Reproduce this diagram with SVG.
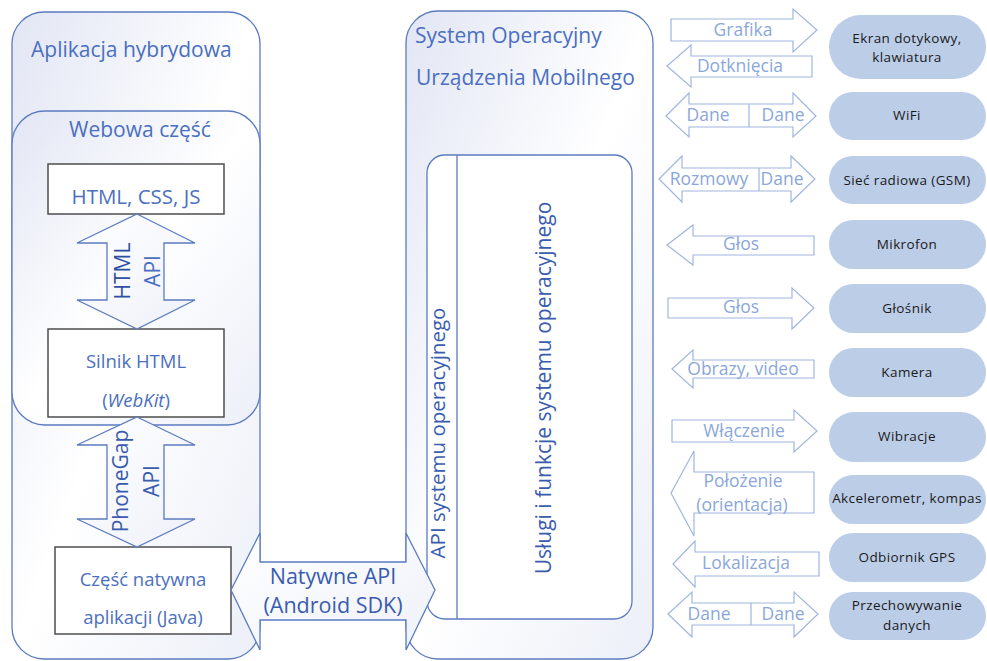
<svg xmlns="http://www.w3.org/2000/svg" width="987" height="661" viewBox="0 0 987 661">
  <defs>
    <linearGradient id="panelFill" x1="0" y1="0" x2="1" y2="1">
      <stop offset="0" stop-color="#e2e6f4"/>
      <stop offset="0.5" stop-color="#ffffff"/>
      <stop offset="1" stop-color="#eceff8"/>
    </linearGradient>
    <linearGradient id="arrowFill" x1="0" y1="0" x2="1" y2="1">
      <stop offset="0" stop-color="#ffffff"/>
      <stop offset="1" stop-color="#eef1f9"/>
    </linearGradient>
    <style>
      .panel { fill: url(#panelFill); stroke: #5b7bc0; stroke-width: 1.3; }
      .inner { fill: #ffffff; stroke: #5b7bc0; stroke-width: 1.3; }
      .box { fill: #ffffff; stroke: #4d4d4d; stroke-width: 1.5; }
      .big { fill: url(#arrowFill); stroke: #5b7bc0; stroke-width: 1.3; }
      .thin { fill: #ffffff; stroke: #9fb6e0; stroke-width: 1.2; }
      .pill { fill: #bccde8; }
      text { font-family: "Open Sans", "Liberation Sans", sans-serif; }
      .title { font-size: 21px; fill: #4a6fc1; }
      .boxt { font-size: 18.5px; fill: #4a6fc1; text-anchor: middle; }
      .api { font-size: 21px; fill: #3a5cae; text-anchor: middle; }
      .lbl { font-size: 17.5px; fill: #8aa7da; text-anchor: middle; }
      .node { font-size: 13.5px; fill: #1a1a1a; text-anchor: middle; letter-spacing: 0.4px; }
    </style>
  </defs>

  <!-- hybrid application container -->
  <g id="hybrid-app">
    <rect class="panel" x="12" y="12" width="248" height="647" rx="32"/>
    <text class="title" x="31" y="57">Aplikacja hybrydowa</text>
  </g>

  <!-- web part container -->
  <g id="web-part">
    <rect class="panel" x="12" y="111" width="248" height="314" rx="33"/>
    <text class="title" x="140" y="137" text-anchor="middle">Webowa część</text>
  </g>

  <g id="html-css-js">
    <rect class="box" x="48" y="164" width="176" height="50"/>
    <text class="boxt" x="136" y="204" style="font-size:20.5px">HTML, CSS, JS</text>
  </g>

  <g id="html-engine">
    <rect class="box" x="48" y="329" width="176" height="88"/>
    <text class="boxt" x="136" y="368">Silnik HTML</text>
    <text class="boxt" x="136" y="407">(<tspan font-style="italic">WebKit</tspan>)</text>
  </g>

  <g id="native-part">
    <rect class="box" x="55" y="547" width="176" height="87"/>
    <text class="boxt" x="143" y="586">Część natywna</text>
    <text class="boxt" x="143" y="624">aplikacji (Java)</text>
  </g>

  <!-- mobile OS container -->
  <g id="mobile-os">
    <rect class="panel" x="406" y="11" width="247" height="648" rx="32"/>
    <text class="title" x="415" y="43">System Operacyjny</text>
    <text class="title" x="416" y="85">Urządzenia Mobilnego</text>
  </g>

  <g id="os-services">
    <rect class="inner" x="427" y="155" width="205" height="464" rx="18"/>
    <line x1="457" y1="155" x2="457" y2="619" stroke="#5b7bc0" stroke-width="1.3"/>
    <text class="api" transform="translate(445,433) rotate(-90)" style="font-size:20.5px">API systemu operacyjnego</text>
    <text class="api" transform="translate(551,388) rotate(-90)">Usługi i funkcje systemu operacyjnego</text>
  </g>

  <!-- device peripherals -->
  <g id="screen">
    <rect class="pill" x="829" y="15" width="157" height="64" rx="32"/>
    <text class="node" x="907" y="43">Ekran dotykowy,</text>
    <text class="node" x="907" y="62">klawiatura</text>
  </g>
  <g id="wifi">
    <rect class="pill" x="829" y="92" width="157" height="48" rx="24"/>
    <text class="node" x="907" y="120">WiFi</text>
  </g>
  <g id="gsm">
    <rect class="pill" x="829" y="156" width="157" height="48" rx="24"/>
    <text class="node" x="907" y="185">Sieć radiowa (GSM)</text>
  </g>
  <g id="microphone">
    <rect class="pill" x="829" y="220" width="157" height="49" rx="24.5"/>
    <text class="node" x="907" y="249">Mikrofon</text>
  </g>
  <g id="speaker">
    <rect class="pill" x="829" y="284" width="157" height="49" rx="24.5"/>
    <text class="node" x="907" y="313">Głośnik</text>
  </g>
  <g id="camera">
    <rect class="pill" x="829" y="348" width="157" height="49" rx="24.5"/>
    <text class="node" x="907" y="377">Kamera</text>
  </g>
  <g id="vibration">
    <rect class="pill" x="829" y="412" width="157" height="50" rx="25"/>
    <text class="node" x="907" y="441">Wibracje</text>
  </g>
  <g id="accelerometer">
    <rect class="pill" x="829" y="475" width="157" height="49" rx="24.5"/>
    <text class="node" x="907" y="503">Akcelerometr, kompas</text>
  </g>
  <g id="gps">
    <rect class="pill" x="829" y="533" width="157" height="49" rx="24.5"/>
    <text class="node" x="907" y="562">Odbiornik GPS</text>
  </g>
  <g id="storage">
    <rect class="pill" x="829" y="592" width="157" height="48" rx="24"/>
    <text class="node" x="907" y="610">Przechowywanie</text>
    <text class="node" x="907" y="630">danych</text>
  </g>

  <!-- connectors -->
  <g id="connectors">
    <!-- HTML API -->
    <polygon class="big" points="137,214 195,243 164,243 164,300 195,300 137,329 77,300 107,300 107,243 77,243"/>
    <text class="api" transform="translate(130,271) rotate(-90)" style="fill:#2f50a2">HTML</text>
    <text class="api" transform="translate(160,271) rotate(-90)" style="fill:#4a6fc1">API</text>

    <!-- PhoneGap API -->
    <polygon class="big" points="137,417 195,445 164,445 164,519 195,519 137,547 77,519 107,519 107,445 77,445"/>
    <text class="api" transform="translate(128,481) rotate(-90)">PhoneGap</text>
    <text class="api" transform="translate(159,481) rotate(-90)">API</text>

    <!-- Native API -->
    <polygon class="big" points="231,590 260,533 260,562 406,562 406,533 435,590 406,650 406,620 260,620 260,650"/>
    <text class="api" x="333" y="584" style="font-size:21.5px">Natywne API</text>
    <text class="api" x="333" y="613" style="font-size:21.5px">(Android SDK)</text>

    <!-- screen -->
    <polygon class="thin" points="671,19 793,19 793,9 817,30 793,52 793,41 671,41"/>
    <text class="lbl" x="743" y="36">Grafika</text>
    <polygon class="thin" points="667,66 691,45 691,56 812,56 812,77 691,77 691,87"/>
    <text class="lbl" x="740" y="72">Dotknięcia</text>

    <!-- wifi -->
    <polygon class="thin" points="666,116 689,93 689,104 793,104 793,93 816,116 793,137 793,127 689,127 689,137"/>
    <line x1="749" y1="104" x2="749" y2="127" stroke="#9fb6e0" stroke-width="1.2"/>
    <text class="lbl" x="708" y="121">Dane</text>
    <text class="lbl" x="783" y="121">Dane</text>

    <!-- gsm -->
    <polygon class="thin" points="659,179 682,156 682,168 791,168 791,156 815,179 791,202 791,191 682,191 682,202"/>
    <line x1="759" y1="168" x2="759" y2="191" stroke="#9fb6e0" stroke-width="1.2"/>
    <text class="lbl" x="709" y="185">Rozmowy</text>
    <text class="lbl" x="782" y="185">Dane</text>

    <!-- microphone -->
    <polygon class="thin" points="667,245 693,225 693,236 814,236 814,255 693,255 693,265"/>
    <text class="lbl" x="741" y="250">Głos</text>

    <!-- speaker -->
    <polygon class="thin" points="668,298 792,298 792,288 814,308 792,329 792,318 668,318"/>
    <text class="lbl" x="741" y="313">Głos</text>

    <!-- camera -->
    <polygon class="thin" points="672,369 693,350 693,360 814,360 814,378 693,378 693,388"/>
    <text class="lbl" x="743" y="375">Obrazy, video</text>

    <!-- vibration -->
    <polygon class="thin" points="672,420 794,420 794,410 817,431 794,452 794,442 672,442"/>
    <text class="lbl" x="744" y="437">Włączenie</text>

    <!-- accelerometer -->
    <polygon class="thin" points="671,493 694,451 694,472 814,472 814,513 694,513 694,536"/>
    <text class="lbl" x="743" y="487">Położenie</text>
    <text class="lbl" x="742" y="511">(orientacja)</text>

    <!-- gps -->
    <polygon class="thin" points="673,564 695,541 695,552 819,552 819,576 695,576 695,587"/>
    <text class="lbl" x="746" y="569">Lokalizacja</text>

    <!-- storage -->
    <polygon class="thin" points="668,614 692,592 692,603 794,603 794,592 818,614 794,637 794,625 692,625 692,637"/>
    <line x1="751" y1="603" x2="751" y2="625" stroke="#9fb6e0" stroke-width="1.2"/>
    <text class="lbl" x="709" y="620">Dane</text>
    <text class="lbl" x="783" y="620">Dane</text>
  </g>
</svg>
